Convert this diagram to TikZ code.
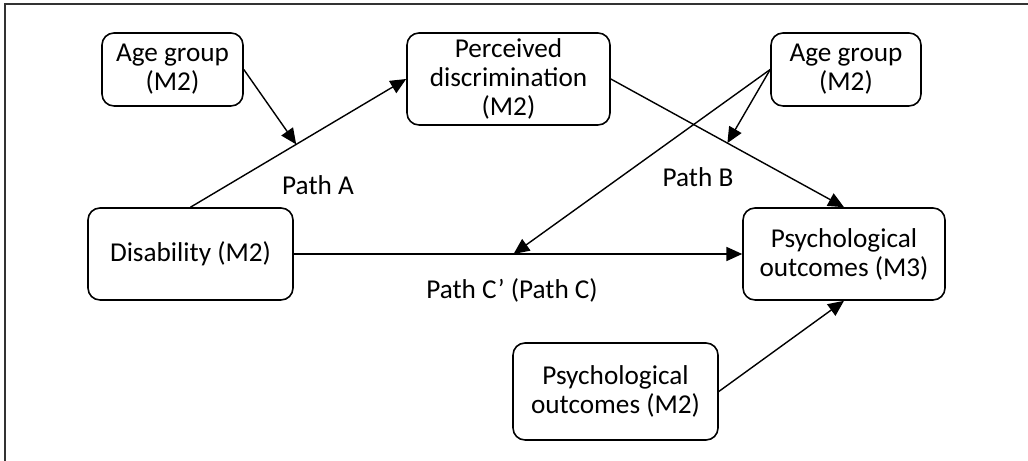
\documentclass[tikz,border=0pt]{standalone}
\usepackage{fontspec}
\setmainfont{Carlito}
\usetikzlibrary{arrows.meta}

\begin{document}
\begin{tikzpicture}[
    every node/.style={font=\fontsize{15.5}{16.5}\selectfont, text=black},
    box/.style={draw, rounded corners=0.24cm, line width=0.9pt, align=center, inner sep=0pt},
    arr/.style={-{Triangle[length=9pt,width=8pt]}, line width=0.8pt},
    ]
  \useasboundingbox (0,0) rectangle (20.56,9.22);
  \draw[line width=0.8pt, black!80] (0.1,0) -- (0.1,9.14) -- (20.56,9.14);

  \node[box, minimum width=2.82cm, minimum height=1.46cm] (ageL) at (3.45,7.83) {Age group\\(M2)};
  \node[box, minimum width=4.06cm, minimum height=1.84cm] (perc) at (10.17,7.64) {Perceived\\discrimination\\(M2)};
  \node[box, minimum width=3.0cm, minimum height=1.46cm] (ageR) at (16.92,7.83) {Age group\\(M2)};
  \node[box, minimum width=4.1cm, minimum height=1.84cm] (dis) at (3.81,4.14) {Disability (M2)};
  \node[box, minimum width=4.04cm, minimum height=1.84cm] (outM3) at (16.88,4.14) {Psychological\\outcomes (M3)};
  \node[box, minimum width=4.1cm, minimum height=1.94cm] (outM2) at (12.31,1.39) {Psychological\\outcomes (M2)};

  \node (pathA) at (6.36,5.52) {Path A};
  \node (pathB) at (13.96,5.68) {Path B};
  \node (pathC) at (10.24,3.42) {Path C’ (Path C)};

  \draw[arr] (dis.north) -- coordinate[pos=0.49] (pA) (perc.west);
  \draw[arr] (perc.east) -- coordinate[pos=0.5] (pB) (outM3.north);
  \draw[arr] (dis.east) -- coordinate[pos=0.49] (pC) (outM3.west);
  \draw[arr] (outM2.east) -- (outM3.south);
  \draw[arr] (ageL.east) -- (pA);
  \draw[arr] (ageR.west) -- (pB);
  \draw[arr] (ageR.west) -- (pC);
\end{tikzpicture}
\end{document}
